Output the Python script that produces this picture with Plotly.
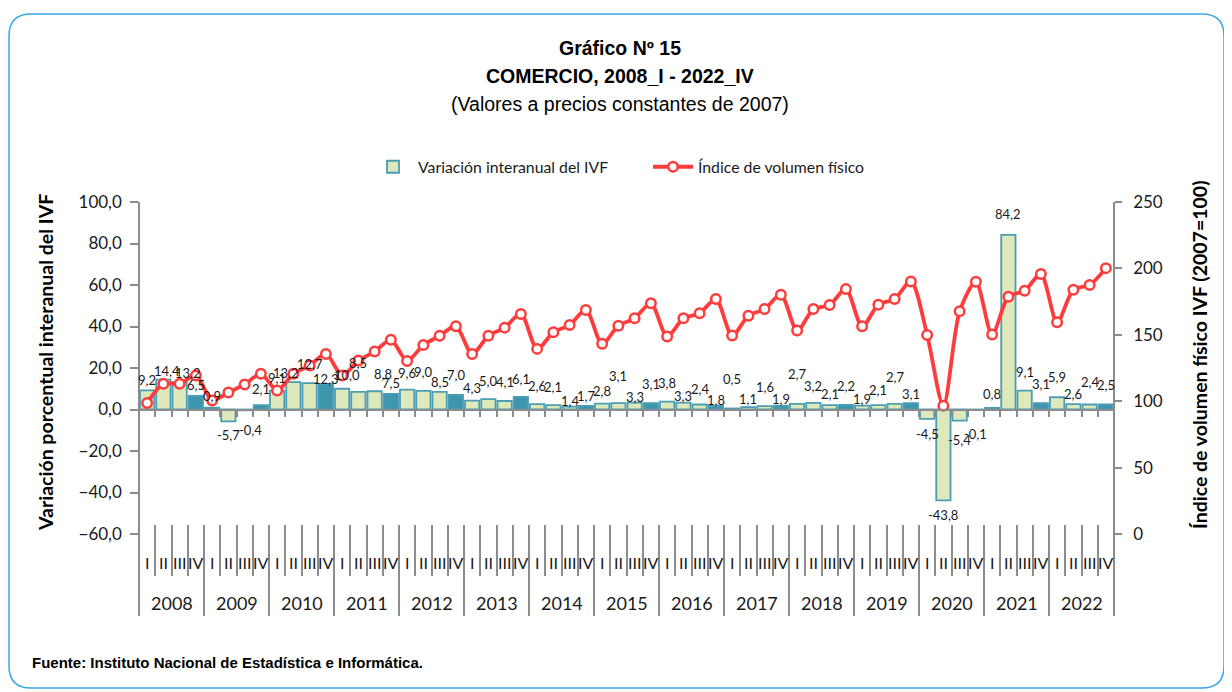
import plotly.graph_objects as go

# ---------------- data ----------------
years = [str(y) for y in range(2008, 2023)]
quarters = ["I", "II", "III", "IV"]

# Variación interanual del IVF (%)
var_ivf = [9.2, 14.4, 13.2, 6.5,
           0.9, -5.7, -0.4, 2.1,
           9.1, 13.2, 12.7, 12.3,
           10.0, 8.5, 8.8, 7.5,
           9.6, 9.0, 8.5, 7.0,
           4.3, 5.0, 4.1, 6.1,
           2.6, 2.1, 1.4, 1.7,
           2.8, 3.1, 3.3, 3.1,
           3.8, 3.3, 2.4, 1.8,
           0.5, 1.1, 1.6, 1.9,
           2.7, 3.2, 2.1, 2.2,
           1.9, 2.1, 2.7, 3.1,
           -4.5, -43.8, -5.4, -0.1,
           0.8, 84.2, 9.1, 3.1,
           5.9, 2.6, 2.4, 2.5]

# Índice de volumen físico (2007=100)
ivf = [98.6, 113.1, 113.1, 119.4,
       100.6, 106.6, 112.6, 120.6,
       108.1, 120.6, 126.9, 135.6,
       119.4, 130.6, 137.4, 146.2,
       130.3, 142.4, 149.2, 156.4,
       135.6, 149.2, 155.4, 165.7,
       139.4, 151.9, 157.4, 168.7,
       143.2, 156.9, 162.4, 173.7,
       148.8, 162.4, 166.2, 176.9,
       149.4, 164.4, 169.4, 180.2,
       153.2, 169.4, 172.4, 184.4,
       156.4, 172.7, 176.9, 190.2,
       149.9, 96.6, 167.7, 189.9,
       150.2, 178.7, 183.2, 195.7,
       159.4, 183.9, 187.5, 200.2]

# ---------------- styling helpers ----------------
# distance (px) of each data label centre from the bar end
label_offset_px = [10, 9, 9.5, 11.5, 12, 14, 20, 16, 13, 9.5, 19.6, 5,
                   14, 29, 17.7, 11.4, 17, 18.6, 9.6, 20, 13, 18, 19, 18,
                   18.6, 18.6, 6, 9.5, 13, 27.5, 6, 19, 19, 7, 15.7, 6,
                   29, 8.4, 19, 6.7, 30, 17, 11, 19.4, 6.7, 15, 27.4, 9,
                   15.6, 15, 19, 24, 14, 20.7, 18.4, 19, 20.7, 10.3, 22.3, 19.8]
label_xshift_px = {1: 4, 2: 8, 6: 6, 9: -7, 12: 5, 14: 8}

# page geometry (the page body adds an 8px offset)
PAGE_W, PAGE_H = 1232, 692
OFF = 8
W, H = PAGE_W - OFF, PAGE_H - OFF
PLOT_L, PLOT_R, PLOT_T, PLOT_B = 139, 1114, 202, 534
PW = PLOT_R - PLOT_L
PH = PLOT_B - PLOT_T


def px_x(x):
    return (x - PLOT_L) / PW


def px_y(y):
    return (PLOT_B - y) / PH


Y1 = [-60, 100]
Y2 = [0, 250]
GRAY = "#8c8c8c"
TXT = "#1a1a1a"
FONT = "Lato"
ARIAL = "Liberation Sans, Arial"
RED = "#ff3b3b"

n = len(var_ivf)
idx = list(range(n))
cat_labels = [f"{years[i // 4]} {quarters[i % 4]}" for i in idx]

bar_fill = ["#3d95ae" if i % 4 == 3 else "#dde9bb" for i in idx]

fig = go.Figure()
fig.add_trace(go.Bar(
    x=idx, y=var_ivf, name="Variación interanual del IVF",
    marker=dict(color=bar_fill, line=dict(color="#4b9db4", width=1.8)),
    customdata=cat_labels, hovertemplate="%{customdata}: %{y:.1f}<extra></extra>",
    xaxis="x", yaxis="y",
))
fig.add_trace(go.Scatter(
    x=idx, y=ivf, name="Índice de volumen físico", mode="lines+markers",
    line=dict(color=RED, width=3.8, shape="spline", smoothing=0.8),
    marker=dict(size=9.5, color="white", line=dict(color=RED, width=2.5)),
    customdata=cat_labels, hovertemplate="%{customdata}: %{y:.1f}<extra></extra>",
    xaxis="x2", yaxis="y2",
))

annotations = []
# bar data labels
for i, v in enumerate(var_ivf):
    sgn = 1 if v >= 0 else -1
    annotations.append(dict(
        x=i, y=v, xref="x", yref="y", text=f"{v:.1f}".replace(".", ","),
        showarrow=False, yanchor="middle", xanchor="center",
        yshift=sgn * label_offset_px[i], xshift=label_xshift_px.get(i, 0),
        font=dict(family=FONT, size=13, color=TXT),
    ))
# quarter labels
for i in idx:
    annotations.append(dict(
        x=i, y=px_y(562), xref="x", yref="paper", text=quarters[i % 4],
        showarrow=False, yanchor="middle", xanchor="center",
        font=dict(family=FONT, size=16, color=TXT),
    ))
# year labels
for k, yr in enumerate(years):
    annotations.append(dict(
        x=4 * k + 1.5, y=px_y(603), xref="x", yref="paper", text=yr,
        showarrow=False, yanchor="middle", xanchor="center",
        font=dict(family=FONT, size=18, color=TXT),
    ))
# titles
annotations += [
    dict(x=px_x(620), y=px_y(48), xref="paper", yref="paper", text="<b>Gráfico Nº 15</b>",
         showarrow=False, yanchor="middle", xanchor="center", font=dict(family=ARIAL, size=19.5, color="#000")),
    dict(x=px_x(620), y=px_y(76), xref="paper", yref="paper", text="<b>COMERCIO, 2008_I - 2022_IV</b>",
         showarrow=False, yanchor="middle", xanchor="center", font=dict(family=ARIAL, size=19.5, color="#000")),
    dict(x=px_x(620), y=px_y(104), xref="paper", yref="paper", text="(Valores a precios constantes de 2007)",
         showarrow=False, yanchor="middle", xanchor="center", font=dict(family=ARIAL, size=19.5, color="#000")),
    dict(x=px_x(45), y=px_y(363), xref="paper", yref="paper", text="<b>Variación porcentual interanual del IVF</b>",
         showarrow=False, xanchor="center", yanchor="middle", textangle=-90,
         font=dict(family=FONT, size=19.5, color="#000")),
    dict(x=px_x(1199), y=px_y(355), xref="paper", yref="paper", text="<b>Índice de volumen físico IVF (2007=100)</b>",
         showarrow=False, xanchor="center", yanchor="middle", textangle=-90,
         font=dict(family=FONT, size=19.5, color="#000")),
    dict(x=px_x(30), y=px_y(662), xref="paper", yref="paper", xanchor="left", yanchor="middle",
         text="<b>Fuente: Instituto Nacional de Estadística e Informática.</b>",
         showarrow=False, font=dict(family=ARIAL, size=15, color="#000")),
]

# rounded border
bx0, by0, bx1, by1, rr = 9, 14, 1224, 688, 22


def P(x, y):
    return f"{px_x(x):.5f},{px_y(y):.5f}"


border = (f"M {P(bx0 + rr, by0)} L {P(bx1 - rr, by0)} Q {P(bx1, by0)} {P(bx1, by0 + rr)} "
          f"L {P(bx1, by1 - rr)} Q {P(bx1, by1)} {P(bx1 - rr, by1)} "
          f"L {P(bx0 + rr, by1)} Q {P(bx0, by1)} {P(bx0, by1 - rr)} "
          f"L {P(bx0, by0 + rr)} Q {P(bx0, by0)} {P(bx0 + rr, by0)} Z")

zero_pos = (0 - Y1[0]) / (Y1[1] - Y1[0])
xr = [-0.5, n - 0.5]

fig.update_layout(
    width=W, height=H,
    margin=dict(l=PLOT_L - OFF, r=PAGE_W - PLOT_R, t=PLOT_T - OFF, b=PAGE_H - PLOT_B, autoexpand=False),
    paper_bgcolor="white", plot_bgcolor="white",
    separators=",.",
    font=dict(family=FONT, color=TXT),
    bargap=0.12,
    showlegend=True,
    legend=dict(orientation="h", x=px_x(368), xanchor="left", y=px_y(167), yanchor="middle",
                font=dict(family=FONT, size=15.8, color=TXT), bgcolor="rgba(0,0,0,0)",
                entrywidth=225, entrywidthmode="pixels", itemwidth=40),
    xaxis=dict(range=xr, anchor="free", position=zero_pos, showline=True, linecolor=GRAY, linewidth=1.5,
               ticks="outside", tickmode="linear", tick0=-0.5, dtick=1, ticklen=7, tickcolor=GRAY,
               tickwidth=1.5, showticklabels=False, showgrid=False, zeroline=False),
    xaxis2=dict(range=xr, overlaying="x", anchor="free", position=px_y(524), showline=False,
                ticks="outside", tickmode="linear", tick0=-0.5, dtick=4, ticklen=91, tickcolor=GRAY,
                tickwidth=1.5, showticklabels=False, showgrid=False, zeroline=False,
                minor=dict(ticks="outside", tick0=-0.5, dtick=1, ticklen=51, tickcolor=GRAY, tickwidth=1.5)),
    yaxis=dict(range=Y1, dtick=20, tickformat=".1f", ticks="outside", ticklen=8, tickcolor=GRAY,
               tickwidth=1.5, showline=True, linecolor=GRAY, linewidth=1.5, showgrid=False,
               zeroline=False, tickfont=dict(family=FONT, size=17, color=TXT), anchor="free", position=0,
               ticklabelstandoff=5),
    yaxis2=dict(range=Y2, dtick=50, overlaying="y", side="right", anchor="free", position=1,
                ticks="outside", ticklen=7, tickcolor=GRAY, tickwidth=1.5, showline=True,
                linecolor=GRAY, linewidth=1.5, showgrid=False, zeroline=False,
                tickfont=dict(family=FONT, size=17, color=TXT), ticklabelstandoff=8),
    annotations=annotations,
    shapes=[dict(type="path", xref="paper", yref="paper", path=border,
                 line=dict(color="#3aa6e6", width=1.5), fillcolor="rgba(0,0,0,0)", layer="below")],
)

fig.write_html("out.html")
